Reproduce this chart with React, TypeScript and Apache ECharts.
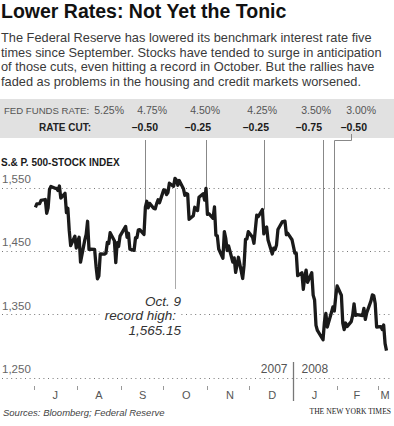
import React, { useEffect, useRef } from 'react';
import * as echarts from 'echarts';

const TITLE = 'Lower Rates: Not Yet the Tonic';
const INTRO = [
  'The Federal Reserve has lowered its benchmark interest rate five',
  'times since September. Stocks have tended to surge in anticipation',
  'of those cuts, even hitting a record in October. But the rallies have',
  'faded as problems in the housing and credit markets worsened.',
];

const fedRates = ['5.25%', '4.75%', '4.50%', '4.25%', '3.50%', '3.00%'];
const cutDates = ['2007-09-18', '2007-10-31', '2007-12-11', '2008-01-22', '2008-01-30'];
const cutSizes = ['\u20130.50', '\u20130.25', '\u20130.25', '\u20130.75', '\u20130.50'];

const yTicks = [1250, 1350, 1450, 1550];
const monthStarts = ['2007-07-01', '2007-08-01', '2007-09-01', '2007-10-01', '2007-11-01', '2007-12-01', '2008-01-01', '2008-02-01', '2008-03-01'];
const monthLabelDates = ['2007-07-16', '2007-08-16', '2007-09-16', '2007-10-17', '2007-11-17', '2007-12-17', '2008-01-16', '2008-02-15', '2008-03-06'];
const monthLetters = ['J', 'A', 'S', 'O', 'N', 'D', 'J', 'F', 'M'];

const recordDate = '2007-10-09';
const recordText = ['Oct. 9', 'record high:', '1,565.15'];

const dates = [
  '2007-07-02', '2007-07-03', '2007-07-05', '2007-07-06', '2007-07-09', '2007-07-10', '2007-07-11', '2007-07-12', '2007-07-13',
  '2007-07-16', '2007-07-17', '2007-07-18', '2007-07-19', '2007-07-20', '2007-07-23', '2007-07-24', '2007-07-25', '2007-07-26',
  '2007-07-27', '2007-07-30', '2007-07-31', '2007-08-01', '2007-08-02', '2007-08-03', '2007-08-06', '2007-08-07', '2007-08-08',
  '2007-08-09', '2007-08-10', '2007-08-13', '2007-08-14', '2007-08-15', '2007-08-16', '2007-08-17', '2007-08-20', '2007-08-21',
  '2007-08-22', '2007-08-23', '2007-08-24', '2007-08-27', '2007-08-28', '2007-08-29', '2007-08-30', '2007-08-31', '2007-09-04',
  '2007-09-05', '2007-09-06', '2007-09-07', '2007-09-10', '2007-09-11', '2007-09-12', '2007-09-13', '2007-09-14', '2007-09-17',
  '2007-09-18', '2007-09-19', '2007-09-20', '2007-09-21', '2007-09-24', '2007-09-25', '2007-09-26', '2007-09-27', '2007-09-28',
  '2007-10-01', '2007-10-02', '2007-10-03', '2007-10-04', '2007-10-05', '2007-10-08', '2007-10-09', '2007-10-10', '2007-10-11',
  '2007-10-12', '2007-10-15', '2007-10-16', '2007-10-17', '2007-10-18', '2007-10-19', '2007-10-22', '2007-10-23', '2007-10-24',
  '2007-10-25', '2007-10-26', '2007-10-29', '2007-10-30', '2007-10-31', '2007-11-01', '2007-11-02', '2007-11-05', '2007-11-06',
  '2007-11-07', '2007-11-08', '2007-11-09', '2007-11-12', '2007-11-13', '2007-11-14', '2007-11-15', '2007-11-16', '2007-11-19',
  '2007-11-20', '2007-11-21', '2007-11-23', '2007-11-26', '2007-11-27', '2007-11-28', '2007-11-29', '2007-11-30', '2007-12-03',
  '2007-12-04', '2007-12-05', '2007-12-06', '2007-12-07', '2007-12-10', '2007-12-11', '2007-12-12', '2007-12-13', '2007-12-14',
  '2007-12-17', '2007-12-18', '2007-12-19', '2007-12-20', '2007-12-21', '2007-12-24', '2007-12-26', '2007-12-27', '2007-12-28',
  '2007-12-31', '2008-01-02', '2008-01-03', '2008-01-04', '2008-01-07', '2008-01-08', '2008-01-09', '2008-01-10', '2008-01-11',
  '2008-01-14', '2008-01-15', '2008-01-16', '2008-01-17', '2008-01-18', '2008-01-22', '2008-01-23', '2008-01-24', '2008-01-25',
  '2008-01-28', '2008-01-29', '2008-01-30', '2008-01-31', '2008-02-01', '2008-02-04', '2008-02-05', '2008-02-06', '2008-02-07',
  '2008-02-08', '2008-02-11', '2008-02-12', '2008-02-13', '2008-02-14', '2008-02-15', '2008-02-19', '2008-02-20', '2008-02-21',
  '2008-02-22', '2008-02-25', '2008-02-26', '2008-02-27', '2008-02-28', '2008-02-29', '2008-03-03', '2008-03-04', '2008-03-05',
  '2008-03-06', '2008-03-07',
];

const closes = [
  1519.43, 1524.87, 1525.4, 1530.44, 1531.85, 1510.12, 1518.76, 1547.7, 1552.5,
  1549.52, 1549.37, 1546.17, 1553.08, 1534.1, 1541.57, 1511.04, 1518.09, 1482.66,
  1458.95, 1473.91, 1455.27, 1465.81, 1472.2, 1433.06, 1467.67, 1476.71, 1497.49,
  1453.09, 1453.64, 1452.92, 1426.54, 1406.7, 1411.27, 1445.94, 1445.55, 1447.12,
  1464.07, 1462.5, 1479.37, 1466.79, 1432.36, 1463.76, 1457.64, 1473.99, 1489.42,
  1472.29, 1478.55, 1453.55, 1451.7, 1471.49, 1471.56, 1483.95, 1484.25, 1476.65,
  1519.78, 1529.03, 1518.75, 1525.75, 1517.73, 1517.21, 1525.42, 1531.38, 1526.75,
  1547.04, 1546.63, 1539.59, 1542.84, 1557.59, 1552.58, 1565.15, 1562.47, 1554.41,
  1561.8, 1548.71, 1538.53, 1541.24, 1540.08, 1500.63, 1506.33, 1519.59, 1515.88,
  1514.4, 1535.28, 1540.98, 1531.02, 1549.38, 1508.44, 1509.65, 1502.17, 1520.27,
  1475.62, 1474.77, 1453.7, 1439.18, 1481.05, 1470.58, 1451.15, 1458.74, 1433.27,
  1439.7, 1416.77, 1440.7, 1407.22, 1428.23, 1469.02, 1469.72, 1481.14, 1472.42,
  1462.79, 1485.01, 1507.34, 1504.66, 1515.96, 1477.65, 1486.59, 1488.41, 1467.95,
  1445.9, 1454.98, 1453.0, 1460.12, 1484.46, 1496.45, 1497.66, 1476.27, 1478.49,
  1468.36, 1447.16, 1447.16, 1411.63, 1416.18, 1390.19, 1409.13, 1420.33, 1401.02,
  1416.25, 1380.95, 1373.2, 1333.25, 1325.19, 1310.5, 1338.6, 1352.07, 1330.61,
  1353.96, 1362.3, 1355.81, 1378.55, 1395.42, 1380.82, 1336.64, 1326.45, 1336.91,
  1331.29, 1339.13, 1348.86, 1367.21, 1348.86, 1349.99, 1348.78, 1360.03, 1342.53,
  1353.11, 1371.8, 1381.29, 1380.02, 1367.68, 1330.63, 1331.34, 1326.75, 1333.7,
  1304.34, 1293.37,
];

const SANS = '"Liberation Sans", Arial, Helvetica, sans-serif';
const SERIF = '"Liberation Serif", "Times New Roman", serif';
const W = 394;
const H = 426;

// layout (pixels)
const rateRight = [124, 167, 220, 277, 331, 376];
const cutRight = [158, 211, 269, 322, 367];

const BASE = Date.UTC(2007, 6, 1);
const dayOf = (s: string) => {
  const [y, m, d] = s.split('-').map(Number);
  return (Date.UTC(y, m - 1, d) - BASE) / 86400000;
};

export default function App() {
  const ref = useRef<HTMLDivElement>(null);

  useEffect(() => {
    if (!ref.current) return;
    const chart = echarts.init(ref.current, null, { renderer: 'svg', width: W, height: H });
    const seriesData = dates.map((d, i) => [dayOf(d), closes[i]]);
    const labelDays = monthLabelDates.map(dayOf);

    chart.setOption({
      animation: false,
      backgroundColor: '#ffffff',
      grid: { left: 2, width: 389, top: 169, height: 217 },
      xAxis: {
        type: 'value',
        min: -22.7,
        max: dayOf('2008-03-01') + 9.2,
        axisLine: { show: false },
        splitLine: { show: false },
        axisTick: {
          show: true,
          length: 4,
          lineStyle: { color: '#999', width: 1 },
          customValues: monthStarts.map(dayOf),
        },
        axisLabel: {
          show: true,
          customValues: labelDays,
          margin: 3,
          color: '#555',
          fontSize: 11,
          fontFamily: SANS,
          formatter: (v: number) => {
            const i = labelDays.findIndex((d) => Math.abs(d - v) < 0.01);
            return i >= 0 ? monthLetters[i] : '';
          },
        },
      },
      yAxis: {
        type: 'value',
        min: 1237.5,
        max: 1580,
        show: false,
        splitLine: { show: false },
      },
      series: [
        {
          type: 'line',
          data: seriesData,
          showSymbol: false,
          symbol: 'none',
          z: 5,
          lineStyle: { color: '#1a1a1a', width: 3.3, join: 'round' },
          markLine: {
            silent: true,
            symbol: ['none', 'none'],
            z: 1,
            lineStyle: { color: '#777', width: 1, type: [1, 3.6] },
            label: {
              show: true,
              position: 'insideStartTop',
              distance: [0, 3],
              color: '#666',
              fontSize: 11.5,
              fontFamily: SANS,
              formatter: (p: any) => Number(p.value).toLocaleString('en-US'),
            },
            data: yTicks.map((v) => ({ yAxis: v })),
          },
        },
      ],
    });

    const px = (d: string, v: number) => chart.convertToPixel({ xAxisIndex: 0, yAxisIndex: 0 }, [dayOf(d), v]) as number[];

    const g: any[] = [];
    // title + intro
    g.push({
      type: 'text', x: 1, y: 11, z: 10,
      style: { text: TITLE, fontSize: 19.5, fontWeight: 'bold', fontFamily: SANS, fill: '#111', verticalAlign: 'middle' },
    });
    INTRO.forEach((t, i) => {
      g.push({
        type: 'text', x: 1, y: 37.5 + i * 14.7, z: 10,
        style: { text: t, fontSize: 12.8, fontFamily: SANS, fill: '#3a3a3a', verticalAlign: 'middle' },
      });
    });
    // rate band
    g.push({ type: 'rect', shape: { x: 0, y: 99, width: W, height: 39 }, style: { fill: '#e1e1e1' }, z: 0 });
    g.push({
      type: 'text', x: 4, y: 110, z: 10,
      style: { text: 'FED FUNDS RATE:', fontSize: 9.6, fontFamily: SANS, fill: '#555', verticalAlign: 'middle' },
    });
    g.push({
      type: 'text', x: 91, y: 127, z: 10,
      style: { text: 'RATE CUT:', fontSize: 10, fontWeight: 'bold', fontFamily: SANS, fill: '#222', align: 'right', verticalAlign: 'middle' },
    });
    fedRates.forEach((r, i) => {
      g.push({
        type: 'text', x: rateRight[i], y: 110, z: 10,
        style: { text: r, fontSize: 10.5, fontFamily: SANS, fill: '#555', align: 'right', verticalAlign: 'middle' },
      });
    });
    cutSizes.forEach((c, i) => {
      g.push({
        type: 'text', x: cutRight[i], y: 127, z: 10,
        style: { text: c, fontSize: 10.5, fontWeight: 'bold', fontFamily: SANS, fill: '#1a1a1a', align: 'right', verticalAlign: 'middle' },
      });
    });
    // cut lines
    cutDates.forEach((d, i) => {
      const idx = dates.indexOf(d);
      const v = Math.max(closes[idx], closes[idx - 1]);
      const p = px(d, v);
      const x = Math.round(p[0]) + 0.5;
      if (i === cutDates.length - 1) {
        g.push({
          type: 'polyline', z: 1,
          shape: { points: [[x, p[1]], [x, 140.5], [351.5, 140.5], [351.5, 134]] },
          style: { stroke: '#888', lineWidth: 1, fill: null },
        });
      } else {
        g.push({
          type: 'line', z: 1,
          shape: { x1: x, y1: 140, x2: x, y2: p[1] },
          style: { stroke: '#888', lineWidth: 1 },
        });
      }
    });
    // section label
    g.push({
      type: 'text', x: 1, y: 162, z: 10,
      style: { text: 'S.& P. 500-STOCK INDEX', fontSize: 10, fontWeight: 'bold', fontFamily: SANS, fill: '#1a1a1a', verticalAlign: 'middle' },
    });
    // record annotation
    const ri = dates.indexOf(recordDate);
    const rp = px(recordDate, closes[ri]);
    const rx = Math.round(rp[0]) + 0.5;
    g.push({
      type: 'line', z: 1,
      shape: { x1: rx, y1: rp[1] + 10, x2: rx, y2: 289 },
      style: { stroke: '#aaa', lineWidth: 1 },
    });
    recordText.forEach((t, i) => {
      g.push({
        type: 'text', x: 181, y: 301.5 + i * 14.3, z: 10,
        style: {
          text: t, fontSize: 13.5, fontStyle: 'italic', fontFamily: SANS, fill: '#333',
          align: 'right', verticalAlign: 'middle',
          backgroundColor: i === 1 ? '#fff' : 'transparent', padding: i === 1 ? [0, 5, 0, 5] : 0,
        },
      });
    });
    // year separator
    const yp = px('2008-01-01', 1300);
    const yx = Math.round(yp[0]) + 0.5;
    g.push({ type: 'line', z: 3, shape: { x1: yx, y1: 362, x2: yx, y2: 401 }, style: { stroke: '#777', lineWidth: 1.3 } });
    g.push({
      type: 'text', x: yx - 6, y: 369, z: 10,
      style: { text: '2007', fontSize: 12, fontFamily: SANS, fill: '#555', align: 'right', verticalAlign: 'middle' },
    });
    g.push({
      type: 'text', x: yx + 8, y: 369, z: 10,
      style: { text: '2008', fontSize: 12, fontFamily: SANS, fill: '#555', align: 'left', verticalAlign: 'middle' },
    });
    // footer
    g.push({
      type: 'text', x: 3, y: 412, z: 10,
      style: { text: 'Sources: Bloomberg; Federal Reserve', fontSize: 9.5, fontStyle: 'italic', fontFamily: SANS, fill: '#444', verticalAlign: 'middle' },
    });
    g.push({
      type: 'text', x: 391, y: 411, z: 10,
      style: { text: 'THE NEW YORK TIMES', fontSize: 7.6, fontFamily: SERIF, fill: '#222', align: 'right', verticalAlign: 'middle' },
    });

    chart.setOption({ graphic: g });
    return () => chart.dispose();
  }, []);

  return <div ref={ref} style={{ position: 'fixed', left: 0, top: 0, width: W, height: H }} />;
}
